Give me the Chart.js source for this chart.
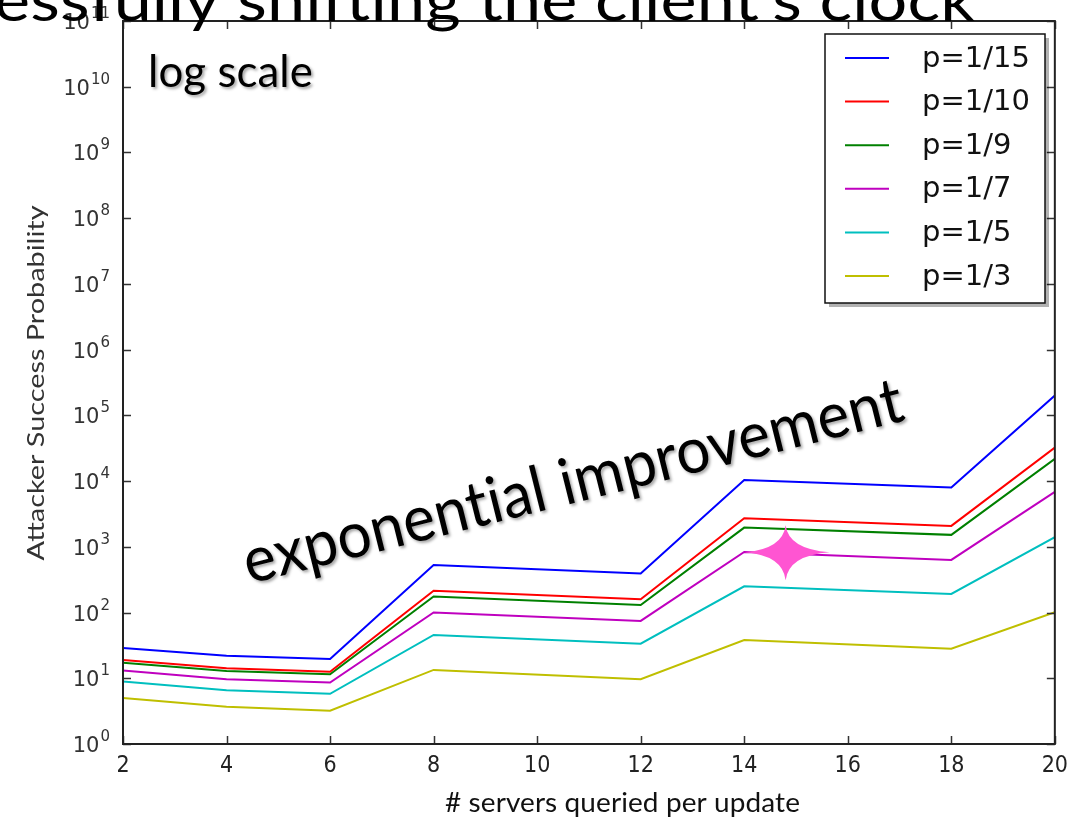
<!DOCTYPE html>
<html><head><meta charset="utf-8">
<script src="https://cdn.jsdelivr.net/npm/chart.js@4"></script>
<style>html,body{margin:0;padding:0;background:#fff;overflow:hidden}</style>
</head><body>
<canvas id="c" width="1076" height="821" style="display:block;width:1076px;height:821px"></canvas>
<script>
// ---- data ----
const serversQueried = [2, 4, 6, 8, 12, 14, 18, 20];
const seriesLabels = ['p=1/15', 'p=1/10', 'p=1/9', 'p=1/7', 'p=1/5', 'p=1/3'];
const p15 = [29, 22, 19.7, 530, 392, 10400, 7980, 200000];
const p10 = [19, 14.2, 12.6, 215, 159, 2720, 2080, 32300];
const p9  = [17.3, 12.9, 11.5, 175, 130, 1960, 1520, 21800];
const p7  = [13.1, 9.7, 8.6, 100, 74.5, 836, 632, 6850];
const p5  = [8.9, 6.6, 5.8, 45.6, 33.6, 251, 192, 1400];
const p3  = [5.0, 3.7, 3.2, 13.4, 9.7, 38.3, 28.2, 101];
const seriesColors = ['#0000ff', '#ff0000', '#008000', '#bf00bf', '#00bfbf', '#bfbf00'];
const xTickValues = [2, 4, 6, 8, 10, 12, 14, 16, 18, 20];
const xTickLabels = ['2', '4', '6', '8', '10', '12', '14', '16', '18', '20'];
const yTickValues = [1, 1e1, 1e2, 1e3, 1e4, 1e5, 1e6, 1e7, 1e8, 1e9, 1e10, 1e11];
const yTickBase = '10';
const yTickExponents = ['0', '1', '2', '3', '4', '5', '6', '7', '8', '9', '10', '11'];
const xAxisTitle = '# servers queried per update';
const yAxisTitle = 'Attacker Success Probability';
const slideTitle = 'essfully shifting the client’s clock';
const noteLog = 'log scale';
const noteImprovement = 'exponential improvement';
const starAt = {x: 14.8, y: 830};

const seriesValues = [p15, p10, p9, p7, p5, p3];

const datasets = seriesValues.map((vals, i) => ({
  label: seriesLabels[i],
  data: serversQueried.map((x, j) => ({x: x, y: vals[j]})),
  borderColor: seriesColors[i],
  backgroundColor: seriesColors[i],
  borderWidth: 2,
  pointRadius: 0,
  tension: 0,
  fill: false
}));

function fitText(ctx, text, x, y, width) {
  const w = ctx.measureText(text).width;
  ctx.save();
  ctx.translate(x, y);
  ctx.scale(width / w, 1);
  ctx.fillText(text, 0, 0);
  ctx.restore();
}

const TICK_FONT = '"DejaVu Sans Condensed", "DejaVu Sans"';

const decor = {
  id: 'decor',
  afterDatasetsDraw(chart) {
    const ctx = chart.ctx;
    const a = chart.chartArea;
    const xs = chart.scales.x, ys = chart.scales.y;
    ctx.save();
    // inward tick marks on all four sides
    ctx.strokeStyle = '#333';
    ctx.lineWidth = 1.5;
    ctx.beginPath();
    xTickValues.forEach(v => {
      const px = Math.round(xs.getPixelForValue(v)) + 0.5;
      ctx.moveTo(px, a.bottom); ctx.lineTo(px, a.bottom - 8);
      ctx.moveTo(px, a.top); ctx.lineTo(px, a.top + 8);
    });
    yTickValues.forEach(v => {
      const py = Math.round(ys.getPixelForValue(v)) + 0.5;
      ctx.moveTo(a.left, py); ctx.lineTo(a.left + 8, py);
      ctx.moveTo(a.right, py); ctx.lineTo(a.right - 8, py);
    });
    ctx.stroke();
    // frame
    ctx.strokeStyle = '#222';
    ctx.lineWidth = 2;
    ctx.strokeRect(a.left, a.top, a.right - a.left, a.bottom - a.top);

    // y tick labels: 10 with superscript exponent
    ctx.fillStyle = '#333';
    ctx.textBaseline = 'alphabetic';
    ctx.textAlign = 'left';
    const baseFont = '21px "DejaVu Sans"', expFont = '15px "DejaVu Sans"';
    yTickValues.forEach((v, i) => {
      const py = ys.getPixelForValue(v);
      ctx.font = expFont;
      const we = ctx.measureText(yTickExponents[i]).width;
      ctx.font = baseFont;
      const wb = ctx.measureText(yTickBase).width;
      const xEnd = 110;
      ctx.fillText(yTickBase, xEnd - we - wb - 1, py + 8);
      ctx.font = expFont;
      ctx.fillText(yTickExponents[i], xEnd - we, py - 3);
    });

    // y axis title (rotated)
    ctx.save();
    ctx.translate(44, 383);
    ctx.rotate(-Math.PI / 2);
    ctx.font = '24px Lato';
    ctx.fillStyle = '#333';
    ctx.textAlign = 'left';
    const yw = 355;
    fitText(ctx, yAxisTitle, -yw / 2, 0, yw);
    ctx.restore();

    // legend
    const lx = 825, ly = 34, lw = 220, lh = 269;
    ctx.fillStyle = 'rgba(0,0,0,0.3)';
    ctx.fillRect(lx + 4, ly + 4, lw, lh);
    ctx.fillStyle = '#fff';
    ctx.fillRect(lx, ly, lw, lh);
    ctx.strokeStyle = '#111';
    ctx.lineWidth = 1.5;
    ctx.strokeRect(lx, ly, lw, lh);
    ctx.font = '29px "DejaVu Sans"';
    ctx.textBaseline = 'middle';
    ctx.textAlign = 'left';
    chart.data.datasets.forEach((ds, i) => {
      const ry = 58 + i * 43.6;
      ctx.strokeStyle = ds.borderColor;
      ctx.lineWidth = 2;
      ctx.beginPath();
      ctx.moveTo(845, ry); ctx.lineTo(889, ry);
      ctx.stroke();
      ctx.fillStyle = '#111';
      ctx.fillText(ds.label, 922, ry + 1);
    });

    // pink four-point star
    const cx = xs.getPixelForValue(starAt.x), cy = ys.getPixelForValue(starAt.y);
    ctx.fillStyle = '#ff55d2';
    ctx.beginPath();
    const k = 3;
    ctx.moveTo(cx, cy - 27);
    ctx.quadraticCurveTo(cx + k, cy - k, cx + 44, cy);
    ctx.quadraticCurveTo(cx + k, cy + k, cx, cy + 28);
    ctx.quadraticCurveTo(cx - k, cy + k, cx - 41, cy);
    ctx.quadraticCurveTo(cx - k, cy - k, cx, cy - 27);
    ctx.closePath();
    ctx.fill();

    // annotation texts with soft shadow
    ctx.shadowColor = 'rgba(0,0,0,0.35)';
    ctx.shadowBlur = 3;
    ctx.shadowOffsetX = 2;
    ctx.shadowOffsetY = 2;
    ctx.fillStyle = '#000';
    ctx.textBaseline = 'alphabetic';
    ctx.letterSpacing = '0.1px';
    ctx.font = '44px Lato';
    fitText(ctx, noteLog, 148, 87, 165);

    ctx.save();
    ctx.translate(249, 584);
    ctx.rotate(-14 * Math.PI / 180);
    ctx.font = '64px Lato';
    fitText(ctx, noteImprovement, 0, 0, 678);
    ctx.restore();

    ctx.shadowColor = 'transparent';
    // x axis title
    ctx.font = '26px Lato';
    ctx.textAlign = 'left';
    ctx.fillStyle = '#111';
    fitText(ctx, xAxisTitle, 445, 812, 355);

    // slide title (cut off at the top)
    ctx.fillStyle = '#000';
    ctx.font = '58px Lato';
    fitText(ctx, slideTitle, -6, 21, 981);
    ctx.restore();
  }
};

new Chart(document.getElementById('c'), {
  type: 'line',
  data: {datasets: datasets},
  options: {
    responsive: false,
    animation: false,
    devicePixelRatio: 1,
    layout: {padding: {top: 21, right: 16, left: 0, bottom: 0}},
    plugins: {legend: {display: false}, tooltip: {enabled: false}},
    scales: {
      x: {
        type: 'linear', min: 2, max: 20,
        afterBuildTicks: s => { s.ticks = xTickValues.map(v => ({value: v})); },
        afterFit: s => { s.height = 77; },
        grid: {display: false, drawTicks: false},
        border: {display: false},
        ticks: {
          autoSkip: false, maxRotation: 0, padding: 8, color: '#222',
          font: {family: TICK_FONT, size: 23},
          callback: (v, i) => xTickLabels[i]
        }
      },
      y: {
        type: 'logarithmic', min: 1, max: 1e11,
        afterBuildTicks: s => { s.ticks = yTickValues.map(v => ({value: v})); },
        afterFit: s => { s.width = 123; },
        grid: {display: false, drawTicks: false},
        border: {display: false},
        ticks: {display: false}
      }
    }
  },
  plugins: [decor]
});
</script>
</body></html>
